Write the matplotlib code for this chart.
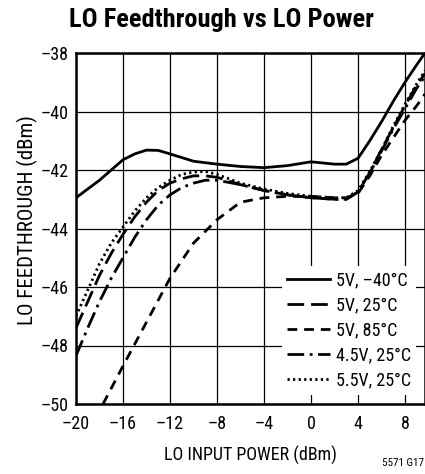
import matplotlib
matplotlib.use("Agg")
import matplotlib.pyplot as plt
from matplotlib import font_manager
from matplotlib.ticker import FuncFormatter

names = {f.name for f in font_manager.fontManager.ttflist}
FONT = "Liberation Sans"
for cand in ["Liberation Sans Narrow", "Roboto Condensed", "Archivo Narrow", "PT Sans Narrow",
             "Pragati Narrow", "Open Sans Condensed", "Saira Condensed"]:
    if cand in names:
        FONT = cand
        break
plt.rcParams['font.family'] = [FONT, 'DejaVu Sans']

# LO input power (dBm)
x_m40 = [-20, -18, -16, -15, -14, -13, -12, -10, -8, -6, -4, -2, 0, 2, 3, 4, 5, 6, 7, 8, 9, 9.7]
y_m40 = [-42.95, -42.35, -41.65, -41.45, -41.32, -41.33, -41.45, -41.7, -41.8, -41.88, -41.92, -41.85,
         -41.72, -41.8, -41.8, -41.6, -41.0, -40.35, -39.65, -39.0, -38.4, -38.0]

x_25 = [-20, -19, -18, -17, -16, -15, -14, -13, -12, -11, -10, -9, -8, -6, -4, -2, 0, 2, 3, 4, 5, 6, 7, 8, 9, 9.7]
y_25 = [-47.4, -46.5, -45.6, -44.85, -44.2, -43.6, -43.1, -42.7, -42.45, -42.3, -42.2, -42.2, -42.25,
        -42.5, -42.7, -42.85, -42.95, -43.0, -43.0, -42.75, -42.1, -41.3, -40.55, -39.8, -39.1, -38.7]

x_85 = [-17.7, -16, -14, -12, -10, -8, -6, -4, -2, 0, 2, 3, 4, 5, 6, 7, 8, 9, 9.7]
y_85 = [-50.0, -48.7, -47.2, -45.7, -44.5, -43.7, -43.1, -42.95, -42.9, -42.9, -42.95, -42.95,
        -42.8, -42.2, -41.5, -40.9, -40.3, -39.8, -39.4]

x_45 = [-20, -19, -18, -17, -16, -15, -14, -13, -12, -11, -10, -9, -8, -6, -4, -2, 0, 2, 3, 4, 5, 6, 7, 8, 9, 9.7]
y_45 = [-48.35, -47.4, -46.5, -45.7, -45.0, -44.3, -43.7, -43.2, -42.85, -42.6, -42.45, -42.35, -42.35,
        -42.5, -42.7, -42.85, -42.95, -43.0, -43.0, -42.75, -42.1, -41.35, -40.6, -39.9, -39.2, -38.8]

x_55 = [-20, -19, -18, -17, -16, -15, -14, -13, -12, -11, -10, -9, -8, -6, -4, -2, 0, 2, 3, 4, 5, 6, 7, 8, 9, 9.7]
y_55 = [-47.0, -46.1, -45.2, -44.5, -43.95, -43.4, -42.95, -42.6, -42.35, -42.15, -42.07, -42.05, -42.15,
        -42.45, -42.65, -42.8, -42.9, -42.95, -42.95, -42.7, -42.05, -41.3, -40.5, -39.75, -39.05, -38.6]

labels = ["5V, \u201340\u00b0C", "5V, 25\u00b0C", "5V, 85\u00b0C", "4.5V, 25\u00b0C", "5.5V, 25\u00b0C"]
x_ticks = [-20, -16, -12, -8, -4, 0, 4, 8]
y_ticks = [-50, -48, -46, -44, -42, -40, -38]

fig = plt.figure(figsize=(4.25, 4.74), dpi=100)
ax = fig.add_axes([76 / 425, 70 / 474, 349 / 425, 351 / 474])

lw = 2.0
ax.plot(x_m40, y_m40, color='black', lw=lw, label=labels[0])
ax.plot(x_25, y_25, color='black', lw=lw, dashes=(6, 2.5), label=labels[1])
ax.plot(x_85, y_85, color='black', lw=lw, dashes=(3.5, 2.5), label=labels[2])
ax.plot(x_45, y_45, color='black', lw=lw, dashes=(6, 2, 1, 2), label=labels[3])
ax.plot(x_55, y_55, color='black', lw=lw, dashes=(0.8, 1.2), label=labels[4])

ax.set_xlim(-20, 9.7)
ax.set_ylim(-50, -38)
ax.set_xticks(x_ticks)
ax.set_yticks(y_ticks)
dash_fmt = FuncFormatter(lambda v, p: f"{v:g}".replace("-", "\u2013"))
ax.xaxis.set_major_formatter(dash_fmt)
ax.yaxis.set_major_formatter(dash_fmt)
ax.tick_params(axis='x', length=0, labelsize=13, pad=8)
ax.tick_params(axis='y', length=0, labelsize=13, pad=5)
ax.grid(True, color='black', lw=0.9)
for s in ax.spines.values():
    s.set_linewidth(1.8)

ax.set_xlabel("LO INPUT POWER (dBm)", fontsize=13, labelpad=9)
ax.set_ylabel("LO FEEDTHROUGH (dBm)", fontsize=15)
ax.yaxis.set_label_coords(-0.108, 0.525)
fig.text(0.521, 0.957, "LO Feedthrough vs LO Power", ha='center', va='center',
         fontsize=19, fontweight='bold')
fig.text(0.998, 0.012, "5571 G17", ha='right', va='bottom', fontsize=8)

leg = ax.legend(loc='lower right', bbox_to_anchor=(0.975, 0.025), frameon=True, fontsize=13,
                handlelength=2.4, handletextpad=0.3, labelspacing=0.4, borderpad=0.3,
                borderaxespad=0)
leg.get_frame().set_facecolor('white')
leg.get_frame().set_edgecolor('none')
leg.get_frame().set_alpha(1)

fig.savefig("out.png", dpi=100)
